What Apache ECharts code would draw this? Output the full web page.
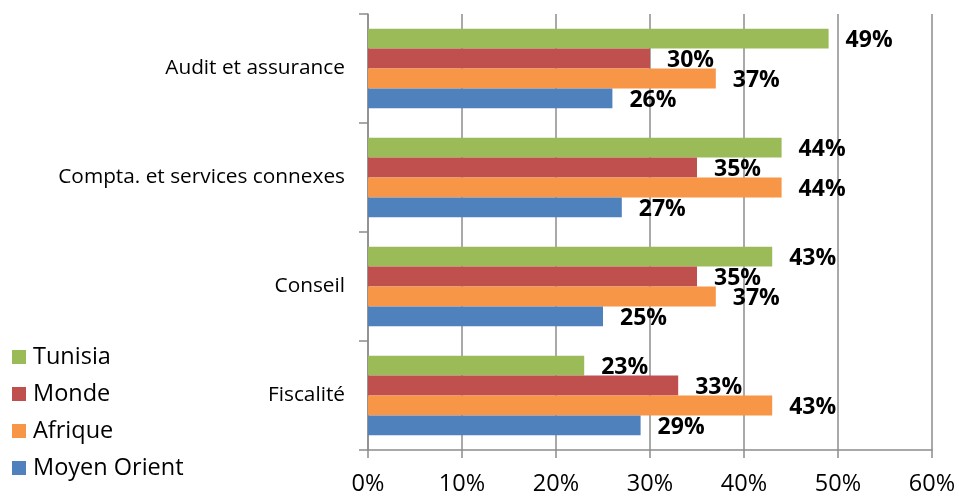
<!DOCTYPE html>
<html>
<head>
<meta charset="utf-8">
<script src="https://cdn.jsdelivr.net/npm/echarts@6/dist/echarts.min.js"></script>
<style>
  html, body { margin: 0; padding: 0; background: #ffffff; }
  #chart { width: 959px; height: 496px; }
</style>
</head>
<body>
<div id="chart"></div>
<script>
// Service lines, listed top to bottom
const categories = ['Audit et assurance', 'Compta. et services connexes', 'Conseil', 'Fiscalité'];

// Share of firms per region (%), one value per service line
const tunisia = [49, 44, 43, 23];
const monde = [30, 35, 35, 33];
const afrique = [37, 44, 37, 43];
const moyenOrient = [26, 27, 25, 29];

const seriesNames = ['Tunisia', 'Monde', 'Afrique', 'Moyen Orient'];
const seriesColors = ['#9BBB59', '#C0504D', '#F79646', '#4F81BD'];
const seriesData = [tunisia, monde, afrique, moyenOrient];

const xTicks = [0, 10, 20, 30, 40, 50, 60];

const chart = echarts.init(document.getElementById('chart'), null, { renderer: 'canvas' });

const font = '"Open Sans", "Liberation Sans", sans-serif';

chart.setOption({
  animation: false,
  backgroundColor: '#ffffff',
  grid: { left: 368, right: 27, top: 14, bottom: 46 },
  legend: {
    orient: 'vertical',
    left: 12,
    top: 345,
    padding: 0,
    itemWidth: 14,
    itemHeight: 14,
    itemGap: 13,
    icon: 'rect',
    data: seriesNames,
    textStyle: { fontFamily: font, fontSize: 23.5, lineHeight: 24, color: '#000000', padding: [0, 0, 0, 2] }
  },
  xAxis: {
    type: 'value',
    min: xTicks[0],
    max: xTicks[xTicks.length - 1],
    interval: 10,
    axisLine: { show: true, lineStyle: { color: '#8c8c8c', width: 1.5 } },
    axisTick: { show: true, length: 8, lineStyle: { color: '#8c8c8c', width: 1.5 } },
    splitLine: { show: true, lineStyle: { color: '#8c8c8c', width: 1.5 } },
    axisLabel: {
      fontFamily: font, fontSize: 23.5, color: '#000000', margin: 22,
      formatter: v => v + '%'
    }
  },
  yAxis: {
    type: 'category',
    data: categories,
    inverse: true,
    axisLine: { show: true, lineStyle: { color: '#8c8c8c', width: 1.5 } },
    axisTick: { show: true, length: 9, lineStyle: { color: '#8c8c8c', width: 1.5 } },
    splitLine: { show: false },
    axisLabel: { fontFamily: font, fontSize: 20.8, color: '#000000', margin: 23 }
  },
  series: seriesData.map((d, i) => ({
    name: seriesNames[i],
    type: 'bar',
    data: d,
    barGap: '0%',
    barCategoryGap: '27%',
    itemStyle: { color: seriesColors[i] },
    z: 2,
    label: {
      show: true,
      position: 'right',
      distance: 17,
      offset: [0, 2],
      fontFamily: font,
      fontWeight: 'bold',
      fontSize: 23,
      color: '#000000',
      formatter: p => p.value + '%'
    }
  }))
});
</script>
</body>
</html>
